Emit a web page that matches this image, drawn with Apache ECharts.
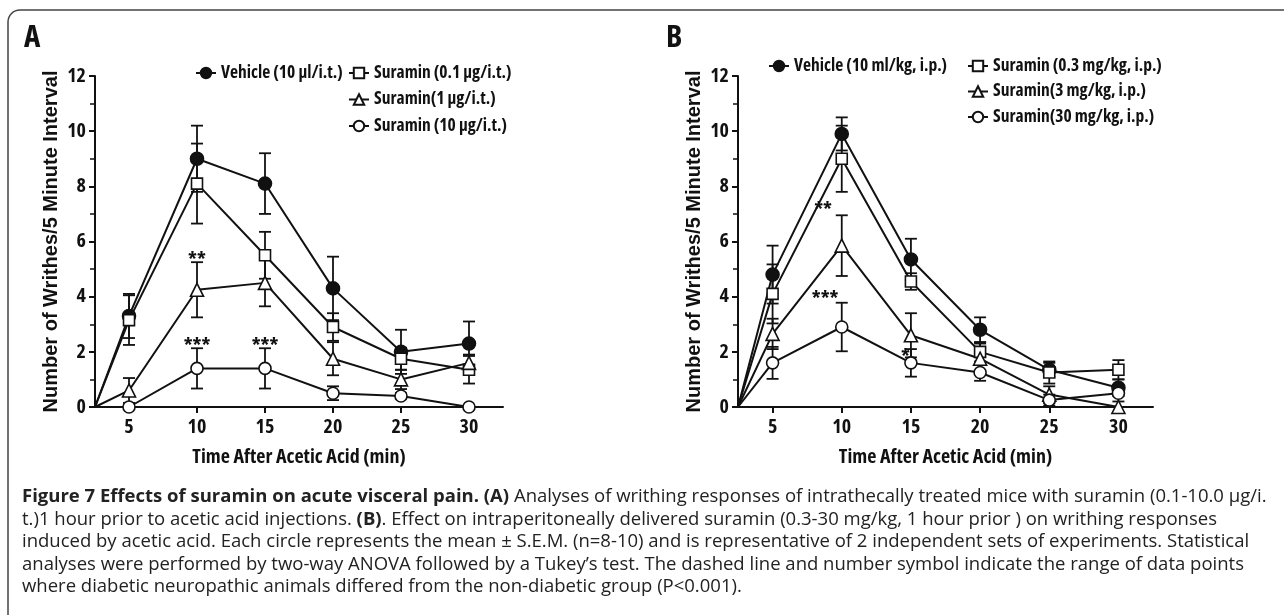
<!DOCTYPE html>
<html>
<head>
<meta charset="utf-8">
<script src="https://cdn.jsdelivr.net/npm/echarts@6/dist/echarts.min.js"></script>
<style>
  html, body { margin: 0; padding: 0; background: #fff; }
  #chart { width: 1284px; height: 615px; }
</style>
</head>
<body>
<div id="chart"></div>
<script>
// Open Sans is variable here, so "condensed" gives a Helvetica-Condensed-like face
const COND = '"Open Sans", sans-serif';
const COND_WEIGHT = 'bold condensed';
const WIDE = '"Liberation Sans", Arial, sans-serif';
const CAPTION_FONT = '"Open Sans", "Noto Sans", sans-serif';
const INK = '#111';

// time points (min); every curve starts at the axis origin
const times = [5, 10, 15, 20, 25, 30];
const startPoint = [2.5, 0];

// panel A: intrathecal
const namesA = ['Vehicle (10 µl/i.t.)', 'Suramin (0.1 µg/i.t.)', 'Suramin(1 µg/i.t.)', 'Suramin (10 µg/i.t.)'];
const vehicleA = [3.3, 9.0, 8.1, 4.3, 2.0, 2.3];
const vehicleErrA = [0.8, 1.2, 1.1, 1.15, 0.8, 0.8];
const lowA = [3.15, 8.1, 5.5, 2.9, 1.75, 1.35];
const lowErrA = [0.9, 1.45, 0.85, 0.5, 0.4, 0.5];
const midA = [0.6, 4.25, 4.5, 1.75, 1.0, 1.6];
const midErrA = [0.45, 1.0, 0.85, 0.6, 0.35, 0.3];
const highA = [0.0, 1.4, 1.4, 0.5, 0.4, 0.0];
const highErrA = [0, 0.73, 0.73, 0.25, 0.1, 0];
const starsA = ['**', '***', '***'];
const starPosA = [[10, 5.5], [10, 2.38], [15, 2.38]];

// panel B: intraperitoneal
const namesB = ['Vehicle (10 ml/kg, i.p.)', 'Suramin (0.3 mg/kg, i.p.)', 'Suramin(3 mg/kg, i.p.)', 'Suramin(30 mg/kg, i.p.)'];
const vehicleB = [4.8, 9.9, 5.35, 2.8, 1.35, 0.7];
const vehicleErrB = [1.05, 0.6, 0.75, 0.45, 0.25, 0.3];
const lowB = [4.1, 9.0, 4.55, 2.0, 1.25, 1.35];
const lowErrB = [1.07, 1.2, 0.3, 0.35, 0.4, 0.35];
const midB = [2.65, 5.85, 2.6, 1.75, 0.45, 0.0];
const midErrB = [0.55, 1.1, 0.8, 0.55, 0.3, 0];
const highB = [1.6, 2.9, 1.6, 1.25, 0.25, 0.5];
const highErrB = [0.58, 0.88, 0.5, 0.3, 0.2, 0.3];
const starsB = ['**', '***', '*'];
const starPosB = [[8.65, 7.3], [8.8, 4.1], [14.6, 2.0]];

const captionLines = [
  '{b|Figure 7 Effects of suramin on acute visceral pain. (A)} Analyses of writhing responses of intrathecally treated mice with suramin (0.1-10.0 µg/i.',
  't.)1 hour prior to acetic acid injections. {b|(B)}. Effect on intraperitoneally delivered suramin (0.3-30 mg/kg, 1 hour prior ) on writhing responses',
  'induced by acetic acid. Each circle represents the mean ± S.E.M. (n=8-10) and is representative of 2 independent sets of experiments. Statistical',
  'analyses were performed by two-way ANOVA followed by a Tukey’s test. The dashed line and number symbol indicate the range of data points',
  'where diabetic neuropathic animals differed from the non-diabetic group (P<0.001).',
];

const markers = [
  { symbol: 'circle', size: 13, fill: INK },
  { symbol: 'rect', size: 11, fill: '#fff' },
  { symbol: 'triangle', size: 13, fill: '#fff' },
  { symbol: 'circle', size: 12, fill: '#fff' },
];

function lineSeries(name, values, marker, axis) {
  return {
    name,
    type: 'line',
    xAxisIndex: axis,
    yAxisIndex: axis,
    data: [{ value: startPoint, symbol: 'none' }].concat(times.map((t, i) => [t, values[i]])),
    symbol: marker.symbol,
    symbolSize: marker.size,
    showAllSymbol: true,
    itemStyle: { color: marker.fill, borderColor: INK, borderWidth: 1.6, opacity: 1 },
    lineStyle: { color: INK, width: 2 },
    emphasis: { disabled: true },
    z: 3,
  };
}

function errorSeries(values, errs, axis) {
  return {
    type: 'custom',
    xAxisIndex: axis,
    yAxisIndex: axis,
    silent: true,
    z: 2,
    data: times.map((t, i) => [t, values[i], errs[i]]),
    renderItem: (params, api) => {
      const x = api.value(0), y = api.value(1), e = api.value(2);
      if (!e) return null;
      const top = api.coord([x, y + e]);
      const bot = api.coord([x, Math.max(0, y - e)]);
      const cw = 6;
      const st = { stroke: INK, lineWidth: 1.8 };
      return {
        type: 'group',
        children: [
          { type: 'line', shape: { x1: top[0], y1: top[1], x2: bot[0], y2: bot[1] }, style: st },
          { type: 'line', shape: { x1: top[0] - cw, y1: top[1], x2: top[0] + cw, y2: top[1] }, style: st },
          { type: 'line', shape: { x1: bot[0] - cw, y1: bot[1], x2: bot[0] + cw, y2: bot[1] }, style: st },
        ],
      };
    },
  };
}

function starSeries(pos, labels, axis) {
  return {
    type: 'custom',
    xAxisIndex: axis,
    yAxisIndex: axis,
    silent: true,
    z: 4,
    data: pos,
    renderItem: (params, api) => {
      const p = api.coord([api.value(0), api.value(1)]);
      return {
        type: 'text',
        x: p[0],
        y: p[1] + 5,
        style: {
          text: labels[params.dataIndex],
          align: 'center',
          verticalAlign: 'middle',
          fontFamily: COND,
          fontSize: 20,
          fontWeight: COND_WEIGHT,
          fill: INK,
        },
      };
    },
  };
}

function xAxis(grid) {
  return {
    type: 'value',
    gridIndex: grid,
    min: 2.5,
    max: 32.5,
    name: 'Time After Acetic Acid (min)',
    nameLocation: 'middle',
    nameGap: 40,
    nameTextStyle: { fontFamily: COND, fontSize: 20, fontWeight: COND_WEIGHT, color: INK },
    axisLine: { lineStyle: { color: INK, width: 2 } },
    axisTick: { customValues: times, length: 6, lineStyle: { color: INK, width: 2 } },
    axisLabel: { customValues: times, margin: 10, fontFamily: COND, fontSize: 20, fontWeight: COND_WEIGHT, color: INK },
    splitLine: { show: false },
  };
}

function yAxis(grid) {
  return {
    type: 'value',
    gridIndex: grid,
    min: 0,
    max: 12,
    interval: 2,
    name: 'Number of Writhes/5 Minute Interval',
    nameLocation: 'middle',
    nameRotate: 90,
    nameGap: 34,
    nameMoveOverlap: false,
    nameTextStyle: { fontFamily: WIDE, fontSize: 20, fontWeight: 'bold', color: INK },
    axisLine: { show: true, lineStyle: { color: INK, width: 2 } },
    axisTick: { show: true, length: 6, lineStyle: { color: INK, width: 2 } },
    minorTick: { show: true, splitNumber: 2, length: 5, lineStyle: { color: INK, width: 1.5 } },
    axisLabel: { margin: 9, fontFamily: COND, fontSize: 20, fontWeight: COND_WEIGHT, color: INK },
    splitLine: { show: false },
  };
}

function legend(names, left, top, gap) {
  return {
    data: names,
    orient: 'vertical',
    left,
    top,
    itemGap: gap,
    itemWidth: 20,
    itemHeight: 13,
    selectedMode: false,
    textStyle: { fontFamily: COND, fontSize: 17.5, fontWeight: COND_WEIGHT, color: INK },
  };
}

const series = [];
const setsA = [[vehicleA, vehicleErrA], [lowA, lowErrA], [midA, midErrA], [highA, highErrA]];
const setsB = [[vehicleB, vehicleErrB], [lowB, lowErrB], [midB, midErrB], [highB, highErrB]];
setsA.forEach((s) => series.push(errorSeries(s[0], s[1], 0)));
setsB.forEach((s) => series.push(errorSeries(s[0], s[1], 1)));
setsA.forEach((s, i) => series.push(lineSeries(namesA[i], s[0], markers[i], 0)));
setsB.forEach((s, i) => series.push(lineSeries(namesB[i], s[0], markers[i], 1)));
series.push(starSeries(starPosA, starsA, 0));
series.push(starSeries(starPosB, starsB, 1));

const graphics = [
  { type: 'rect', z: -1, silent: true, shape: { x: 8, y: 10, width: 1290, height: 620, r: 12 },
    style: { fill: 'none', stroke: '#444', lineWidth: 1.5 } },
  { type: 'text', x: 24, y: 38, style: { text: 'A', fontFamily: COND, fontSize: 31, fontWeight: COND_WEIGHT, fill: INK, verticalAlign: 'middle' } },
  { type: 'text', x: 666, y: 38, style: { text: 'B', fontFamily: COND, fontSize: 31, fontWeight: COND_WEIGHT, fill: INK, verticalAlign: 'middle' } },
];
captionLines.forEach((line, i) => {
  graphics.push({
    type: 'text',
    x: 22,
    y: 497 + i * 22.5,
    style: {
      text: line,
      fontFamily: CAPTION_FONT,
      fontSize: 18.5,
      fill: '#222',
      verticalAlign: 'middle',
      rich: { b: { fontFamily: CAPTION_FONT, fontSize: 18.5, fontWeight: 'bold', fill: '#222' } },
    },
  });
});

const chart = echarts.init(document.getElementById('chart'), null, { renderer: 'canvas' });
chart.setOption({
  animation: false,
  backgroundColor: '#fff',
  grid: [
    { left: 95, top: 76, width: 408, height: 331 },
    { left: 738, top: 76, width: 415, height: 331 },
  ],
  xAxis: [xAxis(0), xAxis(1)],
  yAxis: [yAxis(0), yAxis(1)],
  legend: [
    legend([namesA[0]], 190, 59, 10),
    legend(namesA.slice(1), 343, 59, 8.5),
    legend([namesB[0]], 763, 52, 10),
    legend(namesB.slice(1), 962, 52, 7.5),
  ],
  graphic: graphics,
  series,
});
</script>
</body>
</html>
